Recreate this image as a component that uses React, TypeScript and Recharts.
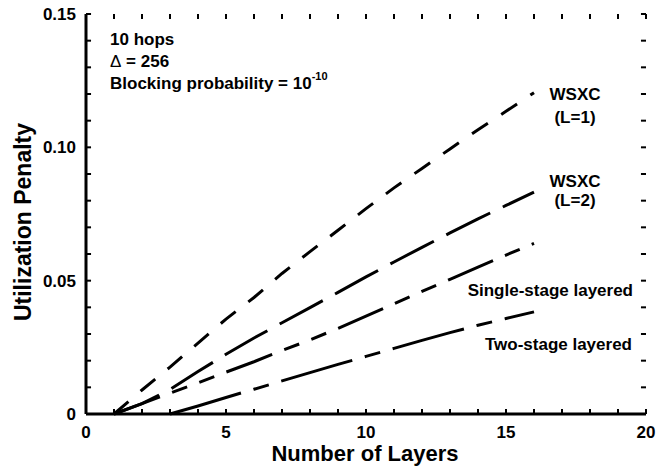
import { LineChart, Line, XAxis, YAxis, ReferenceLine } from "recharts";

const layers = [1, 2, 3, 4, 5, 6, 7, 8, 9, 10, 11, 12, 13, 14, 15, 16];
const wsxcL1 = [0, 0.009, 0.0176, 0.0266, 0.0356, 0.0437, 0.0527, 0.0609, 0.0689, 0.077, 0.0848, 0.0921, 0.0994, 0.1066, 0.1135, 0.1205];
const wsxcL2 = [0, 0.0039, 0.0092, 0.0159, 0.0224, 0.0285, 0.0342, 0.0399, 0.0456, 0.0514, 0.057, 0.0625, 0.0679, 0.0732, 0.0782, 0.0832];
const singleStage = [0, 0.0039, 0.0078, 0.0117, 0.0157, 0.0196, 0.0238, 0.0278, 0.0321, 0.0367, 0.0413, 0.046, 0.0505, 0.0551, 0.0596, 0.064];
const twoStage = [null, null, 0, 0.003, 0.0062, 0.0093, 0.0124, 0.0155, 0.0186, 0.0216, 0.0246, 0.0276, 0.0305, 0.0333, 0.0358, 0.0383];

const xTicks = [0, 1, 2, 3, 4, 5, 6, 7, 8, 9, 10, 11, 12, 13, 14, 15, 16, 17, 18, 19, 20];
const yTicks = [0, 0.01, 0.02, 0.03, 0.04, 0.05, 0.06, 0.07, 0.08, 0.09, 0.1, 0.11, 0.12, 0.13, 0.14, 0.15];

const data = layers.map((l, i) => ({
  layers: l,
  l1: wsxcL1[i],
  l2: wsxcL2[i],
  single: singleStage[i],
  two: twoStage[i],
}));

const X_MAX = 20;
const Y_MAX = 0.15;
// inward tick length in data units (~5px each way)
const TX = 0.18;
const TY = 0.0019;

const font = "'Liberation Sans', Arial, sans-serif";
const axisLine = { stroke: "#000", strokeWidth: 3 };
const labelStyle = { fontSize: 17, fontWeight: 700, fontFamily: font, fill: "#000" };

const fmtX = (v: number) => (v % 5 === 0 ? String(v) : "");
const fmtY = (v: number) => {
  const h = Math.round(v * 100);
  if (h % 5 !== 0) return "";
  return h === 0 ? "0" : v.toFixed(2);
};

const BottomTick = (p: any) => (
  <text x={p.x} y={p.y + 24} textAnchor="middle" style={labelStyle}>
    {fmtX(p.payload.value)}
  </text>
);
const LeftTick = (p: any) => (
  <text x={p.x - 10} y={p.y + 6} textAnchor="end" style={labelStyle}>
    {fmtY(p.payload.value)}
  </text>
);

const tickSeg = (k: string, seg: { x: number; y: number }[]) => (
  <ReferenceLine
    key={k}
    xAxisId="b"
    yAxisId="l"
    segment={seg}
    stroke="#000"
    strokeWidth={2}
    ifOverflow="visible"
  />
);

export default function App() {
  return (
    <div style={{ position: "absolute", left: 0, top: 0, background: "#fff" }}>
      <LineChart
        width={665}
        height={466}
        data={data}
        margin={{ top: 14, right: 19, bottom: 0, left: 0 }}
      >
        <XAxis
          xAxisId="b"
          dataKey="layers"
          type="number"
          domain={[0, X_MAX]}
          ticks={xTicks}
          interval={0}
          height={52}
          tickSize={0}
          tickMargin={0}
          axisLine={axisLine}
          tickLine={false}
          tick={BottomTick}
        />
        <XAxis
          xAxisId="t"
          orientation="top"
          dataKey="layers"
          type="number"
          domain={[0, X_MAX]}
          ticks={xTicks}
          height={0}
          axisLine={axisLine}
          tickLine={false}
          tick={false}
        />
        <YAxis
          yAxisId="l"
          type="number"
          domain={[0, Y_MAX]}
          ticks={yTicks}
          interval={0}
          width={86}
          tickSize={0}
          tickMargin={0}
          axisLine={axisLine}
          tickLine={false}
          tick={LeftTick}
        />
        <YAxis
          yAxisId="r"
          orientation="right"
          type="number"
          domain={[0, Y_MAX]}
          ticks={yTicks}
          width={0}
          axisLine={axisLine}
          tickLine={false}
          tick={false}
        />

        {xTicks.map((v) => tickSeg(`b${v}`, [{ x: v, y: 0 }, { x: v, y: TY }]))}
        {xTicks.map((v) => tickSeg(`t${v}`, [{ x: v, y: Y_MAX }, { x: v, y: Y_MAX - TY }]))}
        {yTicks.map((v) => tickSeg(`l${v}`, [{ x: 0, y: v }, { x: TX, y: v }]))}
        {yTicks.map((v) => tickSeg(`r${v}`, [{ x: X_MAX, y: v }, { x: X_MAX - TX, y: v }]))}

        <Line xAxisId="b" yAxisId="l" dataKey="l1" type="linear" stroke="#000" strokeWidth={3} strokeDasharray="19 16" dot={false} isAnimationActive={false} />
        <Line xAxisId="b" yAxisId="l" dataKey="l2" type="linear" stroke="#000" strokeWidth={3} strokeDasharray="49 14" dot={false} isAnimationActive={false} />
        <Line xAxisId="b" yAxisId="l" dataKey="single" type="linear" stroke="#000" strokeWidth={3} strokeDasharray="49 13 16 13 16 13" dot={false} isAnimationActive={false} />
        <Line xAxisId="b" yAxisId="l" dataKey="two" type="linear" stroke="#000" strokeWidth={3} strokeDasharray="74 13 16 13" dot={false} isAnimationActive={false} />

        <text x={110} y={45} style={labelStyle}>10 hops</text>
        <text x={110} y={67} style={labelStyle}>
          <tspan fontWeight={400}>Δ</tspan> = 256
        </text>
        <text x={110} y={89} style={labelStyle}>
          Blocking probability = 10
          <tspan fontSize={11} dy={-9}>-10</tspan>
        </text>

        <text x={575} y={100} textAnchor="middle" style={labelStyle}>WSXC</text>
        <text x={575} y={123} textAnchor="middle" style={labelStyle}>(L=1)</text>
        <text x={575} y={187} textAnchor="middle" style={labelStyle}>WSXC</text>
        <text x={575} y={206} textAnchor="middle" style={labelStyle}>(L=2)</text>
        <text x={633} y={296} textAnchor="end" style={labelStyle}>Single-stage layered</text>
        <text x={632} y={350} textAnchor="end" style={labelStyle}>Two-stage layered</text>

        <text x={365} y={461} textAnchor="middle" style={{ ...labelStyle, fontSize: 22 }}>Number of Layers</text>
        <text x={31} y={222} textAnchor="middle" transform="rotate(-90 31 222)" style={{ ...labelStyle, fontSize: 23 }}>
          Utilization Penalty
        </text>
      </LineChart>
    </div>
  );
}
